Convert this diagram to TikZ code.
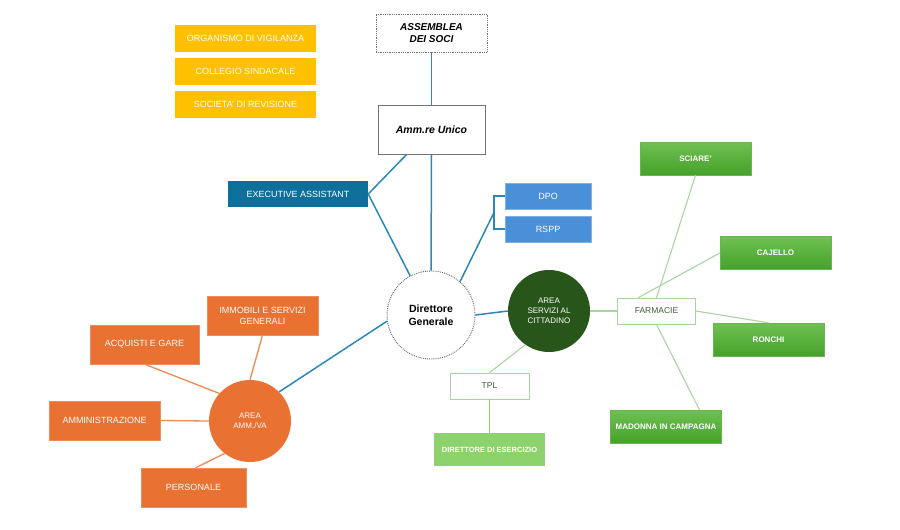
\documentclass[tikz,border=0pt]{standalone}
\usepackage{fontspec}
\setmainfont{Liberation Sans}
\usetikzlibrary{calc}
\definecolor{lineblue}{HTML}{2A88B8}
\definecolor{execblue}{HTML}{0E6F9A}
\definecolor{boxblue}{HTML}{4A90D9}
\definecolor{gold}{HTML}{FFC000}
\definecolor{orng}{HTML}{E97132}
\definecolor{orline}{HTML}{F08A55}
\definecolor{dkgreen}{HTML}{28561A}
\definecolor{ltgline}{HTML}{A9D6A0}
\definecolor{gtop}{HTML}{6FC152}
\definecolor{gbot}{HTML}{45A12A}
\definecolor{lgfill}{HTML}{8ED26D}
\definecolor{farmtext}{HTML}{3E5E3A}
\tikzset{
  box/.style={rectangle, inner sep=1pt, align=center, font=\fontsize{9}{11}\selectfont},
  goldbox/.style={box, fill=gold, text=white, minimum width=141pt, minimum height=27pt},
  orbox/.style={box, fill=orng, draw=orng!80!white, text=white, minimum width=111pt, minimum height=39pt},
  gbox/.style={box, top color=gtop, bottom color=gbot, draw=gbot!80!white, text=white, minimum width=111pt, minimum height=33pt, font=\fontsize{8}{10}\selectfont\bfseries},
  wbox/.style={box, fill=white, draw=ltgline, line width=0.8pt, text=farmtext, minimum width=78pt, minimum height=26pt, font=\fontsize{8.5}{10}\selectfont},
  bluebox/.style={box, fill=boxblue, draw=boxblue!70!white, text=white, minimum width=86pt, minimum height=26pt},
  bl/.style={draw=lineblue, line width=1.5pt},
  ol/.style={draw=orline, line width=1.3pt},
  gl/.style={draw=ltgline, line width=1.1pt},
}
\begin{document}
\begin{tikzpicture}[x=1pt,y=-1pt]
\path[use as bounding box, fill=white] (0,0) rectangle (900,530);

% top
\node[box, draw=gray!90!black, densely dotted, line width=0.8pt, minimum width=111pt, minimum height=38pt, font=\fontsize{10}{12}\selectfont\bfseries\itshape] (ass) at (431.5,33) {ASSEMBLEA\\DEI SOCI};
\node[box, draw=gray!90!black, line width=0.8pt, fill=white, minimum width=107pt, minimum height=49pt, font=\fontsize{10.5}{12}\selectfont\bfseries\itshape] (amm) at (431.5,129.5) {Amm.re Unico};

\node[goldbox] (odv) at (245.5,38.5) {ORGANISMO DI VIGILANZA};
\node[goldbox] (cs) at (245.5,71.5) {COLLEGIO SINDACALE};
\node[goldbox] (sr) at (245.5,104.5) {SOCIETA' DI REVISIONE};

\node[box, fill=execblue, text=white, minimum width=140pt, minimum height=26pt] (exec) at (298,194) {EXECUTIVE ASSISTANT};
\node[bluebox] (dpo) at (548,196) {DPO};
\node[bluebox] (rspp) at (548,229) {RSPP};

\node[circle, draw=gray!80!black, densely dotted, line width=0.9pt, fill=white, minimum size=88pt, inner sep=0pt, align=center, font=\fontsize{10.5}{13}\selectfont\bfseries] (dg) at (431,315) {Direttore\\Generale};

\node[circle, fill=dkgreen, minimum size=82pt, inner sep=0pt, align=center, text=white, font=\fontsize{8}{10}\selectfont] (asc) at (549,311) {AREA\\SERVIZI AL\\CITTADINO};
\node[circle, fill=orng, minimum size=82pt, inner sep=0pt, align=center, text=white, font=\fontsize{8}{10}\selectfont] (aav) at (250,421) {AREA\\AMM./VA};

% right side
\node[wbox] (farm) at (656.5,311) {FARMACIE};
\node[gbox] (sci) at (695.5,158.5) {SCIARE'};
\node[gbox] (caj) at (775.5,253) {CAJELLO};
\node[gbox] (ron) at (768.5,339.5) {RONCHI};
\node[gbox] (mad) at (666,426.5) {MADONNA IN CAMPAGNA};
\node[wbox, minimum width=79pt] (tpl) at (489.5,386) {TPL};
\node[box, fill=lgfill, text=white, minimum width=111pt, minimum height=33pt, font=\fontsize{7.5}{9}\selectfont\bfseries] (dde) at (489.5,449.5) {DIRETTORE DI ESERCIZIO};

% left orange
\node[orbox] (imm) at (262.5,315.5) {IMMOBILI E SERVIZI\\GENERALI};
\node[orbox, minimum width=109pt] (acq) at (144.5,344.5) {ACQUISTI E GARE};
\node[orbox] (amn) at (104.5,420.5) {AMMINISTRAZIONE};
\node[orbox, minimum width=105pt] (per) at (193.5,487.5) {PERSONALE};

% blue connectors
\draw[bl] (ass.south) -- (amm.north);
\draw[bl] (amm.south) -- (dg.north);
\draw[bl] ($(amm.south west)!0.27!(amm.south east)$) -- (exec.east);
\draw[bl] (exec.east) -- (dg.118);
\coordinate (brk) at (494,212.5);
\draw[bl] (dg.49) -- (brk);
\draw[bl] (dpo.west) -| (brk) |- (rspp.west);
\draw[bl] (dg.east) -- (asc.west);
\draw[bl] (dg.188) -- (aav.45);

% green connectors
\draw[gl] (asc.east) -- (farm.west);
\draw[gl] (farm.north) -- (sci.south);
\draw[gl] ($(farm.north west)!0.27!(farm.north east)$) -- (caj.west);
\draw[gl] (farm.east) -- (ron.north);
\draw[gl] (farm.south) -- ($(mad.north west)!0.8!(mad.north east)$);
\draw[gl] (asc.235) -- (tpl.north);
\draw[draw=lgfill, line width=1.4pt] (tpl.south) -- (dde.north);

% orange connectors
\draw[ol] (imm.south) -- (aav.north);
\draw[ol] (acq.south) -- (aav.138);
\draw[ol] (amn.east) -- (aav.west);
\draw[ol] ($(per.north west)!0.52!(per.north east)$) -- (aav.232);
\end{tikzpicture}
\end{document}
